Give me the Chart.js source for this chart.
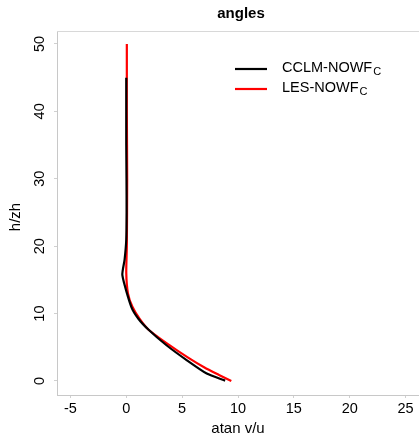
<!DOCTYPE html>
<html>
<head>
<meta charset="utf-8">
<script src="https://cdn.jsdelivr.net/npm/chart.js@4"></script>
<style>
  html, body { margin: 0; padding: 0; background: #fff; }
  #wrap { width: 419px; height: 438px; }
</style>
</head>
<body>
<div id="wrap"><canvas id="anglesChart" width="419" height="438"></canvas></div>
<script>
// profile of angle vs height
const cclmH = [45, 40, 35, 30, 25, 21, 18, 15.7, 11.0, 9.2, 7.6, 5.3, 3.1, 1.1, 0.05];
const cclmAngle = [0, 0, 0, 0.02, 0.03, 0, -0.15, -0.35, 0.45, 1.1, 2.0, 3.6, 5.4, 7.2, 8.85];

const lesH = [50, 45, 40, 30, 20, 16, 13, 11, 9.2, 7.6, 5.5, 3.5, 2.0, 0.9, 0];
const lesAngle = [0.05, 0.05, 0.05, 0.08, 0.05, 0.0, 0.15, 0.55, 1.2, 2.0, 3.7, 5.5, 7.0, 8.3, 9.4];

const xTicks = [-5, 0, 5, 10, 15, 20, 25];
const yTicks = [0, 10, 20, 30, 40, 50];

const seriesNames = ['CCLM-NOWF', 'LES-NOWF'];
const seriesColors = ['#000000', '#ff0000'];

const toPoints = (xs, ys) => xs.map((x, i) => ({ x: x, y: ys[i] }));

const fontFam = '"Liberation Sans", Arial, Helvetica, sans-serif';
const boxColor = '#c8c8c8';

// extra drawing: box top, title, rotated y labels, legend with subscripts
const decorations = {
  id: 'decorations',
  afterDraw(chart) {
    const ctx = chart.ctx;
    const area = chart.chartArea;
    const yScale = chart.scales.y;
    ctx.save();

    // top border of the box
    ctx.strokeStyle = '#d8d8d8';
    ctx.lineWidth = 1;
    ctx.beginPath();
    ctx.moveTo(area.left, area.top + 0.5);
    ctx.lineTo(area.right, area.top + 0.5);
    ctx.stroke();

    // title
    ctx.fillStyle = '#000';
    ctx.font = 'bold 15px ' + fontFam;
    ctx.textAlign = 'center';
    ctx.textBaseline = 'middle';
    ctx.fillText('angles', 241, 14);

    // y tick labels, rotated like R
    ctx.font = '14.5px ' + fontFam;
    yTicks.forEach(v => {
      const py = yScale.getPixelForValue(v);
      ctx.save();
      ctx.translate(40, py);
      ctx.rotate(-Math.PI / 2);
      ctx.textAlign = 'center';
      ctx.textBaseline = 'middle';
      ctx.fillText(String(v), 0, 0);
      ctx.restore();
    });

    // y axis title
    ctx.save();
    ctx.font = '15px ' + fontFam;
    ctx.translate(16, (area.top + area.bottom) / 2 + 4);
    ctx.rotate(-Math.PI / 2);
    ctx.textAlign = 'center';
    ctx.textBaseline = 'middle';
    ctx.fillText('h/zh', 0, 0);
    ctx.restore();

    // legend
    const legendY = [69, 89];
    seriesNames.forEach((name, i) => {
      const ly = legendY[i];
      ctx.strokeStyle = seriesColors[i];
      ctx.lineWidth = 2.2;
      ctx.beginPath();
      ctx.moveTo(235, ly);
      ctx.lineTo(267, ly);
      ctx.stroke();
      ctx.fillStyle = '#000';
      ctx.textAlign = 'left';
      ctx.textBaseline = 'middle';
      ctx.font = '14.5px ' + fontFam;
      ctx.fillText(name, 282, ly - 1);
      const w = ctx.measureText(name).width;
      ctx.font = '11px ' + fontFam;
      ctx.fillText('C', 282 + w + 1, ly + 3);
    });

    ctx.restore();
  }
};

new Chart(document.getElementById('anglesChart'), {
  type: 'scatter',
  data: {
    datasets: [
      {
        label: seriesNames[0],
        data: toPoints(cclmAngle, cclmH),
        showLine: true,
        borderColor: seriesColors[0],
        borderWidth: 2.2,
        pointRadius: 0,
        tension: 0.2,
        order: 0
      },
      {
        label: seriesNames[1],
        data: toPoints(lesAngle, lesH),
        showLine: true,
        borderColor: seriesColors[1],
        borderWidth: 2.2,
        pointRadius: 0,
        tension: 0.2,
        order: 1
      }
    ]
  },
  options: {
    responsive: false,
    animation: false,
    layout: { padding: { top: 31, right: 0, left: 0, bottom: 0 } },
    plugins: {
      legend: { display: false },
      title: { display: false },
      tooltip: { enabled: false }
    },
    scales: {
      x: {
        type: 'linear',
        min: -6.2,
        max: 26.2,
        afterBuildTicks: axis => { axis.ticks = xTicks.map(v => ({ value: v })); },
        afterFit: axis => { axis.height = 43; },
        grid: { drawOnChartArea: false, drawTicks: true, tickLength: 3, color: '#d0d0d0' },
        border: { display: true, color: boxColor, width: 1 },
        ticks: {
          color: '#000',
          padding: 2,
          maxRotation: 0,
          font: { family: fontFam, size: 14.5 }
        },
        title: {
          display: true,
          text: 'atan v/u',
          color: '#000',
          padding: { top: 1, bottom: 0 },
          font: { family: fontFam, size: 15 }
        }
      },
      y: {
        type: 'linear',
        min: -2.08,
        max: 51.92,
        afterBuildTicks: axis => { axis.ticks = yTicks.map(v => ({ value: v })); },
        afterFit: axis => { axis.width = 57; },
        grid: { drawOnChartArea: false, drawTicks: true, tickLength: 3, color: '#d0d0d0' },
        border: { display: true, color: boxColor, width: 1 },
        ticks: { display: false }
      }
    }
  },
  plugins: [decorations]
});
</script>
</body>
</html>
